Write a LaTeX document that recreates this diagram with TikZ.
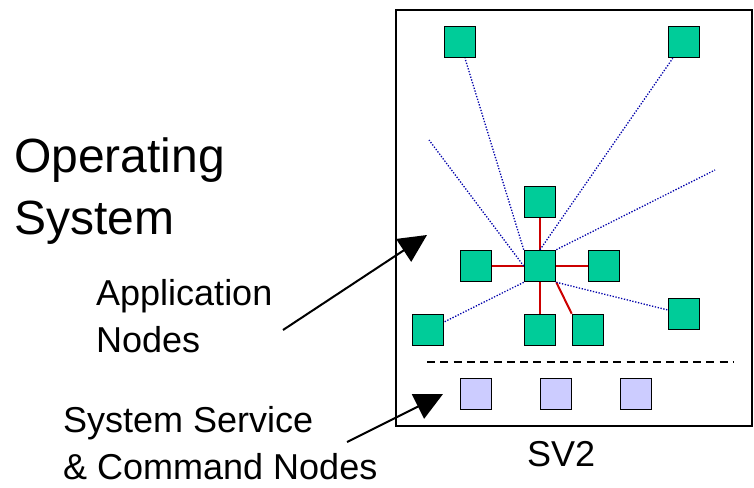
\documentclass[tikz,border=0pt]{standalone}
\usepackage{fontspec}
\setmainfont{Liberation Sans}
\usetikzlibrary{arrows.meta}
\definecolor{appgreen}{RGB}{0,204,153}
\definecolor{svcblue}{RGB}{204,204,255}
\definecolor{linkblue}{RGB}{0,0,170}
\definecolor{linkred}{RGB}{204,0,0}
\begin{document}
\begin{tikzpicture}[x=1pt,y=-1pt,
  appnode/.style={draw=black,fill=appgreen,line width=1.6pt,minimum size=31pt,inner sep=0pt},
  svcnode/.style={draw=black,fill=svcblue,line width=1.6pt,minimum size=31pt,inner sep=0pt},
  dotlink/.style={draw=linkblue,line width=1.3pt,dash pattern=on 1.3pt off 1.6pt},
  redlink/.style={draw=linkred,line width=2pt},
  pointer/.style={draw=black,line width=2pt,-{Triangle[length=28pt,width=27pt]}},
  bigtext/.style={font=\fontsize{48}{62}\selectfont,align=left,anchor=base west,inner sep=0pt},
  labeltext/.style={font=\fontsize{36}{47}\selectfont,align=left,anchor=base west,inner sep=0pt}]
\useasboundingbox (0,0) rectangle (754,487);
% frame
\node[draw=black,line width=1.5pt,minimum width=356pt,minimum height=416pt,inner sep=0pt] (frame) at (574,218) {};
% application nodes
\node[appnode] (tl) at (460,42) {};
\node[appnode] (tr) at (684,42) {};
\node[appnode] (c)  at (540,266) {};
\node[appnode] (t)  at (540,202) {};
\node[appnode] (l)  at (476,266) {};
\node[appnode] (r)  at (604,266) {};
\node[appnode] (bl) at (428,330) {};
\node[appnode] (b)  at (540,330) {};
\node[appnode] (br) at (588,330) {};
\node[appnode] (fr) at (684,314) {};
% service nodes
\node[svcnode] (s1) at (476,394) {};
\node[svcnode] (s2) at (556,394) {};
\node[svcnode] (s3) at (636,394) {};
% red links
\draw[redlink] (c) -- (t);
\draw[redlink] (c) -- (l);
\draw[redlink] (c) -- (r);
\draw[redlink] (c) -- (b);
\draw[redlink] (c.south east) -- (br.north west);
% dotted links
\coordinate (p1) at (429,140);
\coordinate (p2) at (715,170);
\draw[dotlink] (c.north west) -- (tl);
\draw[dotlink] (c.north) -- (tr);
\draw[dotlink] (c.west) -- (p1);
\draw[dotlink] (c.north east) -- (p2);
\draw[dotlink] (c.south west) -- (bl);
\draw[dotlink] (c.south east) -- (fr);
% separator
\coordinate (d1) at (427,362);
\coordinate (d2) at (733,362);
\draw[black,line width=1.3pt,dash pattern=on 8pt off 5.3pt] (d1) -- (d2);
% texts (base anchor = baseline of last line)
\node[bigtext] (os) at (14,234) {Operating\\System};
\node[labeltext] (app) at (96,352) {Application\\Nodes};
\node[labeltext] (sys) at (63,479) {System Service\\\& Command Nodes};
\node[labeltext] (sv) at (527,466) {SV2};
% pointers
\coordinate (a1s) at (283,330);
\coordinate (a1e) at (427,235);
\coordinate (a2s) at (347,442);
\coordinate (a2e) at (443,394);
\draw[pointer] (a1s) -- (a1e);
\draw[pointer] (a2s) -- (a2e);
\end{tikzpicture}
\end{document}
